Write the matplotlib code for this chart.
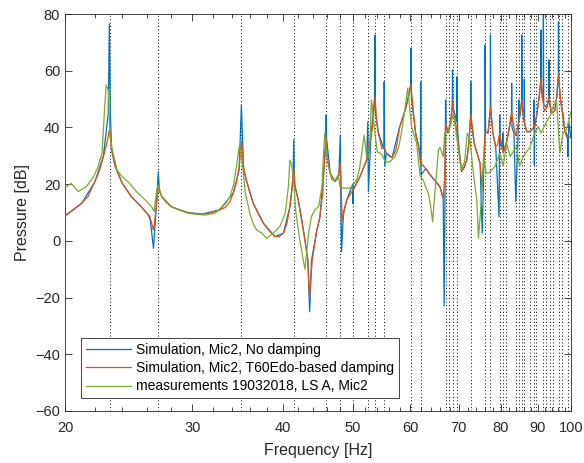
import matplotlib
matplotlib.use("Agg")
import matplotlib.pyplot as plt
from matplotlib.ticker import FixedLocator, NullFormatter

plt.rcParams['font.family'] = ['Liberation Sans', 'DejaVu Sans']

# modal frequencies (dotted lines)
mode_freqs = [23.05, 26.9, 35.05, 41.4, 45.9, 48.0, 50.0, 52.4, 53.6, 55.2, 60.1, 62.0,
              67.1, 67.8, 68.6, 69.6, 72.7, 76.1, 77.4, 79.7, 80.5, 81.3, 83.9, 84.7,
              85.5, 86.2, 87.7, 88.9, 89.4, 91.4, 92.4, 93.4, 94.5, 96.3, 97.1, 98.9]

# Simulation, Mic2, T60Edo-based damping  (frequency Hz, level dB)
red_pts = [(20.0, 8.8), (20.5, 10.8), (21.1, 13.3), (21.5, 15.5), (22.0, 20.9), (22.3, 24.5),
           (22.6, 29.7), (22.8, 33.5), (22.95, 37.0), (23.03, 39.1), (23.1, 36.0), (23.2, 32.0),
           (23.45, 26.4), (23.99, 20.3), (24.7, 15.6), (25.5, 12.0), (26.0, 9.5), (26.3, 7.0),
           (26.49, 3.8), (26.6, 6.5), (26.75, 13.0), (26.91, 19.1), (27.05, 17.0), (27.2, 15.6),
           (27.6, 13.5), (28.07, 12.0), (28.8, 10.8), (29.6, 9.9), (30.5, 9.5), (31.5, 9.6),
           (32.7, 10.9), (33.3, 11.8), (33.8, 13.8), (34.15, 16.8), (34.5, 20.5), (34.8, 26.0),
           (35.08, 35.0), (35.3, 26.0), (35.6, 21.5), (36.0, 17.0), (36.4, 13.2), (37.0, 9.5),
           (37.6, 6.2), (38.3, 3.5), (39.0, 1.5), (39.5, 1.5), (40.06, 2.7), (40.5, 6.0),
           (40.9, 12.0), (41.2, 19.0), (41.4, 25.6), (41.6, 19.0), (42.0, 14.4), (42.5, 7.0),
           (42.9, 0.3), (43.3, -7.0), (43.55, -20.0), (43.9, -7.0), (44.5, 3.0), (45.0, 8.5),
           (45.4, 17.0), (45.6, 26.2), (45.9, 36.2), (46.1, 29.0), (46.5, 23.8), (47.2, 20.9),
           (47.6, 22.0), (47.85, 24.5), (48.0, 27.4), (48.15, 18.0), (48.3, 7.4), (49.0, 14.4),
           (50.0, 18.0), (51.1, 22.6), (52.2, 28.5), (52.4, 33.0), (52.9, 36.0), (53.3, 42.0),
           (53.6, 50.8), (53.9, 42.0), (54.2, 37.9), (54.8, 32.5), (55.2, 33.0), (55.6, 31.0),
           (56.0, 30.0), (56.6, 29.3), (57.3, 32.0), (58.0, 40.3), (58.7, 44.0), (59.2, 47.3),
           (59.7, 51.0), (60.1, 55.0), (60.5, 47.0), (61.0, 38.0), (61.6, 33.2), (62.0, 27.5),
           (63.0, 25.5), (64.0, 23.0), (65.0, 21.0), (65.9, 19.1), (66.6, 15.0), (66.9, 22.0),
           (67.1, 41.5), (67.6, 38.0), (68.2, 42.0), (68.6, 49.0), (69.0, 44.0), (69.4, 40.3),
           (70.0, 33.0), (70.6, 24.4), (71.2, 26.0), (71.8, 28.5), (72.3, 35.0), (72.7, 44.4),
           (73.1, 40.0), (73.5, 34.4), (74.9, 27.3), (75.4, 18.0), (75.8, 28.0), (76.1, 38.5),
           (76.8, 38.0), (77.4, 47.3), (78.0, 38.0), (78.7, 33.2), (79.2, 34.0), (79.7, 38.0),
           (80.6, 31.0), (81.5, 35.0), (82.2, 40.0), (82.8, 45.5), (83.4, 40.0), (83.9, 37.0),
           (84.7, 42.0), (85.1, 45.0), (85.5, 49.7), (86.2, 42.0), (86.9, 38.5), (87.7, 38.5),
           (88.9, 40.0), (89.6, 43.8), (90.3, 50.0), (90.9, 57.3), (91.4, 50.0), (91.9, 45.7),
           (92.6, 47.0), (93.2, 50.8), (94.0, 45.0), (95.0, 46.0), (95.6, 51.0), (96.1, 59.1),
           (96.7, 50.0), (97.2, 46.0), (98.0, 39.0), (99.0, 37.0), (100.0, 36.3)]

# Simulation, Mic2, No damping
blue_pts = [(20.0, 8.8), (21.1, 13.3), (22.0, 20.9), (22.6, 30.0), (22.95, 45.0), (23.03, 76.5),
            (23.1, 45.0), (23.2, 32.0), (23.45, 26.4), (23.99, 20.3), (24.7, 15.6), (25.5, 12.0),
            (26.2, 8.5), (26.5, -2.6), (26.78, 14.5), (26.91, 24.4), (27.0, 18.0), (27.2, 15.6),
            (28.07, 12.0), (29.6, 9.9), (31.0, 9.5), (32.7, 10.9), (34.15, 16.8), (34.8, 25.0),
            (35.05, 47.9), (35.3, 25.0), (35.6, 21.5), (36.4, 13.2), (37.6, 6.2), (39.0, 1.5),
            (40.06, 2.7), (40.9, 12.0), (41.3, 22.0), (41.4, 35.6), (41.5, 20.0), (42.0, 14.4),
            (42.9, 0.3), (43.3, -7.0), (43.55, -25.0), (43.8, -7.0), (44.5, 3.0), (45.0, 8.5),
            (45.6, 26.2), (45.85, 36.2), (45.9, 44.4), (45.95, 36.2), (46.5, 23.8), (47.2, 20.9),
            (47.8, 23.0), (48.0, 37.3), (48.2, -3.8), (48.5, 10.0), (49.0, 14.4), (49.95, 20.0),
            (50.0, 13.0), (50.05, 18.0), (51.1, 22.6), (52.2, 28.5), (52.4, 42.0), (52.5, 17.4),
            (52.9, 36.0), (53.55, 50.8), (53.6, 72.6), (53.7, 45.0), (54.2, 37.9), (55.15, 32.5),
            (55.2, 56.1), (55.3, 26.2), (55.6, 31.0), (56.6, 29.3), (58.0, 40.3), (59.2, 47.3),
            (60.05, 55.0), (60.1, 67.9), (60.2, 50.0), (61.0, 38.0), (61.6, 33.2), (61.95, 28.0),
            (62.0, 56.1), (62.05, 23.2), (63.0, 25.5), (64.0, 23.0), (65.0, 21.0), (65.9, 19.1),
            (66.6, 15.0), (66.8, -23.0), (67.05, 30.0), (67.1, 49.7), (67.2, 41.5), (67.6, 38.0),
            (68.2, 42.0), (68.55, 47.0), (68.6, 60.3), (68.7, 47.0), (69.55, 42.0), (69.6, 57.9),
            (69.7, 40.0), (70.0, 33.0), (70.6, 24.4), (71.2, 26.0), (71.8, 28.5), (72.3, 35.0),
            (72.65, 44.0), (72.7, 56.1), (72.8, 42.0), (73.5, 34.4), (74.9, 27.3), (75.4, 2.7),
            (75.8, 28.0), (76.05, 38.0), (76.1, 69.1), (76.2, 38.5), (76.8, 38.0), (77.35, 46.0),
            (77.4, 72.6), (77.5, 46.0), (78.0, 38.0), (78.7, 33.2), (79.55, 8.5), (79.7, 44.4),
            (79.8, 35.0), (80.45, 32.0), (80.5, 38.0), (80.6, 31.0), (81.5, 35.0), (82.2, 40.0),
            (82.75, 44.0), (82.8, 55.6), (82.9, 40.0), (83.4, 38.0), (83.9, 13.8), (84.6, 41.0),
            (84.7, 49.7), (84.8, 43.0), (85.1, 45.0), (85.45, 49.0), (85.5, 72.6), (85.6, 48.0),
            (86.15, 42.0), (86.2, 57.0), (86.3, 41.0), (86.9, 38.5), (87.7, 38.5), (88.85, 40.0),
            (88.9, 49.7), (89.0, 26.8), (89.1, 40.0), (89.6, 43.8), (90.3, 50.0), (90.85, 56.0),
            (90.9, 74.4), (91.0, 55.0), (91.3, 50.0), (91.55, 50.0), (91.6, 80.0), (91.7, 48.0),
            (92.6, 47.0), (93.15, 50.0), (93.2, 63.8), (93.3, 49.0), (94.0, 45.0), (95.0, 46.0),
            (95.6, 51.0), (96.05, 58.0), (96.1, 77.3), (96.2, 56.0), (96.7, 50.0), (97.2, 46.0),
            (97.5, 45.0), (98.0, 39.0), (98.9, 36.0), (99.05, 29.7), (99.3, 42.0), (100.0, 36.3)]

# measurements 19032018, LS A, Mic2
green_pts = [(20.0, 19.5), (20.1, 19.1), (20.4, 20.3), (20.86, 17.4), (21.4, 19.1), (21.9, 22.6),
             (22.2, 26.0), (22.5, 30.9), (22.6, 39.1), (22.7, 48.0), (22.8, 55.0), (22.96, 53.0),
             (23.05, 40.0), (23.2, 33.2), (23.6, 25.0), (23.99, 22.6), (24.5, 20.6), (25.1, 17.4),
             (25.8, 14.5), (26.35, 12.0), (26.55, 10.3), (26.78, 18.0), (26.91, 19.6), (27.2, 15.7),
             (28.07, 12.0), (29.6, 9.7), (31.2, 9.1), (32.2, 9.7), (33.3, 13.0), (33.8, 15.6),
             (34.2, 20.0), (34.5, 26.2), (34.8, 33.2), (35.08, 29.7), (35.5, 16.8), (36.0, 9.7),
             (36.4, 6.0), (36.8, 3.8), (37.4, 2.7), (38.0, 0.9), (38.8, 2.7), (39.6, 5.0),
             (40.3, 9.7), (40.7, 19.1), (40.9, 28.5), (41.1, 27.0), (41.3, 23.8), (41.7, 9.7),
             (42.2, 0.3), (42.9, -10.0), (43.4, 2.7), (43.8, 8.6), (44.3, 11.0), (44.8, 12.0),
             (45.3, 19.1), (45.5, 30.0), (45.7, 37.9), (46.0, 30.0), (46.2, 26.4), (46.7, 21.7),
             (47.2, 21.2), (47.7, 23.3), (47.96, 19.0), (48.5, 18.6), (49.5, 18.6), (50.0, 19.6),
             (50.6, 21.7), (51.0, 25.0), (51.4, 30.9), (51.8, 37.3), (52.2, 29.7), (52.6, 29.7),
             (52.8, 38.0), (53.0, 49.7), (53.3, 44.0), (53.6, 38.0), (54.0, 31.4), (54.8, 30.6),
             (55.3, 28.2), (56.0, 27.6), (57.1, 29.5), (57.8, 33.0), (58.3, 38.0), (59.0, 47.0),
             (59.5, 53.9), (60.2, 40.3), (61.2, 34.4), (61.9, 22.6), (62.4, 21.7), (63.5, 16.8),
             (64.0, 12.2), (64.4, 6.8), (65.0, 20.0), (65.6, 32.0), (65.9, 33.0), (66.6, 29.7),
             (66.9, 38.0), (67.8, 38.5), (68.8, 45.0), (69.4, 38.0), (70.3, 27.3), (70.6, 25.0),
             (71.3, 28.0), (71.9, 38.0), (72.5, 36.0), (73.3, 23.8), (74.1, 14.5), (74.5, 0.9),
             (75.2, 14.5), (75.7, 29.7), (76.4, 23.8), (77.1, 24.0), (78.5, 26.2), (79.8, 31.0),
             (80.6, 26.3), (81.5, 34.5), (82.4, 29.7), (83.0, 31.0), (84.1, 33.2), (84.9, 26.3),
             (85.9, 29.7), (87.8, 33.2), (89.1, 38.0), (90.1, 40.3), (90.9, 38.0), (92.5, 42.0),
             (93.5, 44.0), (94.5, 47.3), (95.5, 49.7), (96.5, 31.0), (97.5, 38.0), (98.5, 39.0),
             (100.0, 45.6)]

labels = ['Simulation, Mic2, No damping',
          'Simulation, Mic2, T60Edo-based damping',
          'measurements 19032018, LS A, Mic2']
colors = ['#0072BD', '#D95319', '#77AC30']

xticks = [20, 30, 40, 50, 60, 70, 80, 90, 100]
yticks = [-60, -40, -20, 0, 20, 40, 60, 80]

fig = plt.figure(figsize=(5.84, 4.63), dpi=100)
ax = fig.add_axes([65 / 584, 1 - 411 / 463, 506 / 584, 397 / 463])
ax.set_xscale('log')

for fm in mode_freqs:
    ax.axvline(fm, color='k', linestyle=(0, (1, 2.5)), linewidth=0.7, zorder=1)

for pts, col, lab, z in [(blue_pts, colors[0], labels[0], 2),
                         (red_pts, colors[1], labels[1], 3),
                         (green_pts, colors[2], labels[2], 4)]:
    fx = [p[0] for p in pts]
    ly = [p[1] for p in pts]
    ax.plot(fx, ly, color=col, linewidth=0.9, label=lab, zorder=z)

ax.set_xlim(20, 100)
ax.set_ylim(-60, 80)
ax.xaxis.set_major_locator(FixedLocator(xticks))
ax.set_xticklabels([str(t) for t in xticks])
ax.xaxis.set_minor_locator(FixedLocator([22, 24, 26, 28, 32, 34, 36, 38, 42, 44, 46, 48,
                                         52, 54, 56, 58, 62, 64, 66, 68, 72, 74, 76, 78,
                                         82, 84, 86, 88, 92, 94, 96, 98]))
ax.xaxis.set_minor_formatter(NullFormatter())
ax.set_yticks(yticks)
ax.tick_params(which='both', direction='in', top=True, right=True, labelsize=10.5,
               width=0.6, colors='#262626')
ax.tick_params(axis='x', which='major', pad=7)
ax.tick_params(which='major', length=5)
ax.tick_params(which='minor', length=3)
for s in ax.spines.values():
    s.set_linewidth(0.6)
    s.set_color('#262626')

ax.set_xlabel('Frequency [Hz]', fontsize=11.5, color='#262626', labelpad=6)
ax.set_ylabel('Pressure [dB]', fontsize=11.5, color='#262626')

leg = ax.legend(loc='lower left', bbox_to_anchor=(0.031, 0.032), fontsize=10,
                fancybox=False, edgecolor='#262626', framealpha=1, handlelength=3.3,
                borderpad=0.35, labelspacing=0.3, handletextpad=0.35, borderaxespad=0)
leg.get_frame().set_linewidth(0.6)

fig.savefig('out.png', dpi=100)
